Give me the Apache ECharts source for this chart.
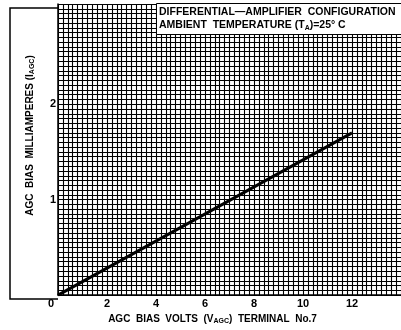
<!DOCTYPE html>
<html>
<head>
<meta charset="utf-8">
<script src="https://cdn.jsdelivr.net/npm/echarts@6/dist/echarts.min.js"></script>
<style>
  html, body { margin: 0; padding: 0; background: #fff; }
  #main { width: 401px; height: 330px; }
</style>
</head>
<body>
<div id="main"></div>
<script>
// 数据
var biasVolts = [0, 12];
var biasMilliamps = [0, 1.7];
var xTickLabels = [0, 2, 4, 6, 8, 10, 12];
var yTickLabels = [1, 2];

var FONT = '"Liberation Sans", Arial, sans-serif';

function near(v, list) {
    for (var i = 0; i < list.length; i++) {
        if (Math.abs(v - list[i]) < 1e-6) return list[i];
    }
    return null;
}

var chart = echarts.init(document.getElementById('main'));

var option = {
    animation: false,
    backgroundColor: '#fff',
    title: {
        text: 'DIFFERENTIAL\u2014AMPLIFIER  CONFIGURATION\n{n|AMBIENT  TEMPERATURE (T}{sub|A}{n|)=25\u00b0 C}',
        left: 156,
        top: 3,
        padding: [3, 20, 3, 3],
        backgroundColor: '#fff',
        borderColor: '#000',
        borderWidth: 1,
        textStyle: {
            fontFamily: FONT,
            fontSize: 10.5,
            fontWeight: 'bold',
            color: '#000',
            lineHeight: 13,
            rich: {
                n: { fontFamily: FONT, fontSize: 10.5, fontWeight: 'bold', color: '#000', lineHeight: 13 },
                sub: { fontFamily: FONT, fontSize: 7, fontWeight: 'bold', color: '#000', padding: [5, 0, 0, 0] }
            }
        },
        z: 10
    },
    grid: {
        left: 58,
        top: 4,
        width: 344,
        height: 295
    },
    xAxis: {
        type: 'value',
        min: 0,
        max: 14,
        interval: 0.2,
        name: '{n|AGC  BIAS  VOLTS  (V}{sub|AGC}{n|)  TERMINAL  No.7}',
        nameLocation: 'middle',
        nameGap: 17,
        nameTextStyle: {
            padding: [0, 34, 0, 0],
            rich: {
                n: { fontFamily: FONT, fontSize: 10, fontWeight: 'bold', color: '#000' },
                sub: { fontFamily: FONT, fontSize: 7, fontWeight: 'bold', color: '#000', padding: [5, 0, 0, 0] }
            }
        },
        axisLine: { lineStyle: { color: '#000', width: 1.5 } },
        axisTick: { show: false },
        splitLine: { lineStyle: { color: '#000', width: 1.1 } },
        axisLabel: {
            margin: 3,
            showMaxLabel: false,
            formatter: function (v) {
                var t = near(v, xTickLabels);
                if (t === null) return '';
                if (t === 0) return '{z|0}';
                return String(t);
            },
            fontFamily: FONT,
            fontSize: 11,
            fontWeight: 'bold',
            color: '#000',
            rich: {
                z: { fontFamily: FONT, fontSize: 11, fontWeight: 'bold', color: '#000', padding: [0, 14, 0, 0] }
            }
        }
    },
    yAxis: {
        type: 'value',
        min: 0,
        max: 3.05,
        interval: 0.05,
        name: '{n|AGC  BIAS  MILLIAMPERES (I}{sub|AGC}{n|)}',
        nameLocation: 'middle',
        nameRotate: 90,
        nameGap: 22,
        nameTextStyle: {
            padding: [0, 0, 0, 28],
            rich: {
                n: { fontFamily: FONT, fontSize: 10, fontWeight: 'bold', color: '#000' },
                sub: { fontFamily: FONT, fontSize: 7, fontWeight: 'bold', color: '#000', padding: [5, 0, 0, 0] }
            }
        },
        axisLine: { show: true, lineStyle: { color: '#000', width: 1.5 } },
        axisTick: { show: false },
        splitLine: { lineStyle: { color: '#000', width: 1.1 } },
        axisLabel: {
            margin: 2,
            showMaxLabel: false,
            formatter: function (v) {
                var t = near(v, yTickLabels);
                return t === null ? '' : String(t);
            },
            fontFamily: FONT,
            fontSize: 11,
            fontWeight: 'bold',
            color: '#000'
        }
    },
    // 左侧标题框
    graphic: [{
        type: 'polyline',
        shape: { points: [[58, 8], [10, 8], [10, 299], [58, 299]] },
        style: { stroke: '#000', fill: null, lineWidth: 1.5 },
        silent: true
    }],
    series: [{
        type: 'line',
        data: biasVolts.map(function (x, i) { return [x, biasMilliamps[i]]; }),
        symbol: 'none',
        lineStyle: { color: '#000', width: 3 },
        z: 5
    }]
};

chart.setOption(option);
</script>
</body>
</html>
